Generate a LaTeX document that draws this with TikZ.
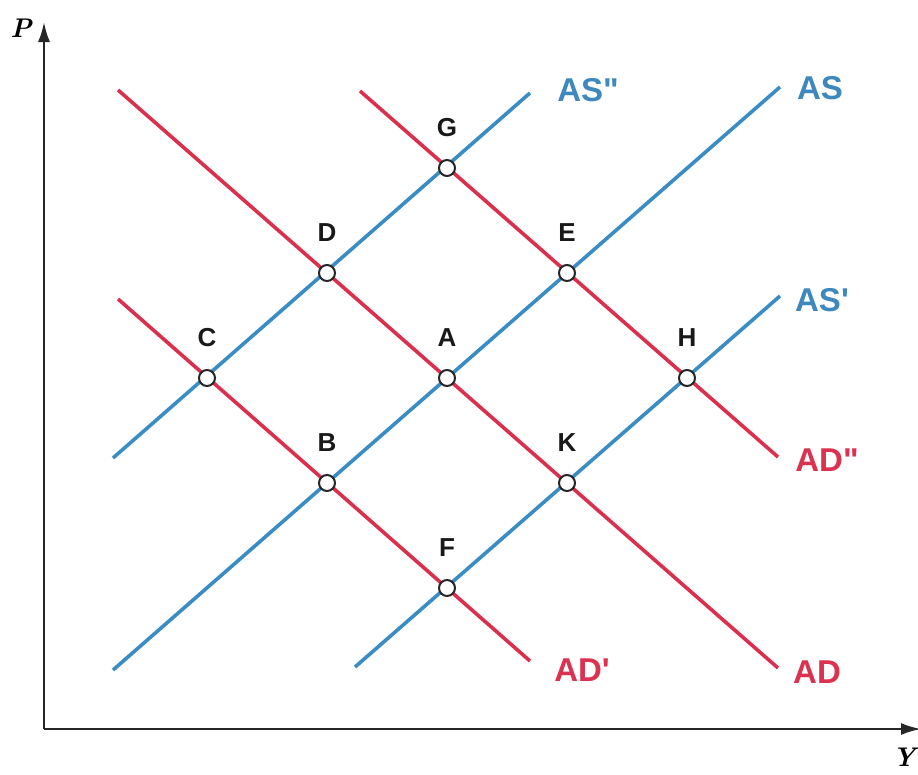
\documentclass[tikz,border=0pt]{standalone}
\usepackage{fontspec}
\newfontfamily\labfont{Liberation Sans}
\usetikzlibrary{arrows.meta}
\definecolor{asblue}{RGB}{58,140,196}
\definecolor{adred}{RGB}{218,48,78}
\definecolor{astext}{RGB}{62,136,190}
\definecolor{adtext}{RGB}{218,50,80}
\begin{document}
\begin{tikzpicture}[x=1pt,y=-1pt,
  axis/.style={line width=2.2pt,draw=black!85,-{Latex[length=20pt,width=12pt]}},
  asline/.style={line width=3.6pt,draw=asblue},
  adline/.style={line width=3.6pt,draw=adred},
  eq/.style={circle,draw=black!85,fill=white,line width=2pt,minimum size=16pt,inner sep=0pt},
  ptlab/.style={font=\labfont\bfseries\fontsize{26}{26}\selectfont,text=black!90},
  aslab/.style={font=\labfont\bfseries\fontsize{33}{33}\selectfont,text=astext},
  adlab/.style={font=\labfont\bfseries\fontsize{33}{33}\selectfont,text=adtext},
  axlab/.style={font=\bfseries\itshape\fontsize{27}{27}\selectfont}]
\useasboundingbox (0,0) rectangle (918,774);
% axes
\coordinate (O) at (44,729);
\coordinate (Ptop) at (44,22);
\coordinate (Yend) at (921,729);
\draw[axis] (O) -- (Ptop);
\draw[axis] (O) -- (Yend);
\node[axlab] (Plab) at (21,28) {P};
\node[axlab] (Ylab) at (904,757) {Y};
% line end coordinates
\coordinate (as2s) at (113,458);
\coordinate (as2e) at (530,93);
\coordinate (ass) at (113,670);
\coordinate (ase) at (780,87);
\coordinate (as1s) at (355,667);
\coordinate (as1e) at (780,296);
\coordinate (ads) at (118,90);
\coordinate (ade) at (778,668);
\coordinate (ad1s) at (118,299);
\coordinate (ad1e) at (530,661);
\coordinate (ad2s) at (360,91);
\coordinate (ad2e) at (778,457);
\draw[asline] (as2s) -- (as2e);
\draw[asline] (ass) -- (ase);
\draw[asline] (as1s) -- (as1e);
\draw[adline] (ads) -- (ade);
\draw[adline] (ad1s) -- (ad1e);
\draw[adline] (ad2s) -- (ad2e);
% curve labels
\node[aslab] (lAS2) at (588,90) {AS"};
\node[aslab] (lAS) at (820,88) {AS};
\node[aslab] (lAS1) at (822,300) {AS'};
\node[adlab] (lAD2) at (827,460) {AD"};
\node[adlab] (lAD1) at (582,670) {AD'};
\node[adlab] (lAD) at (817,672) {AD};
% equilibrium points
\node[eq] (G) at (447,168) {};
\node[eq] (D) at (327,273) {};
\node[eq] (E) at (567,273) {};
\node[eq] (C) at (207,378) {};
\node[eq] (A) at (447,378) {};
\node[eq] (H) at (687,378) {};
\node[eq] (B) at (327,483) {};
\node[eq] (K) at (567,483) {};
\node[eq] (F) at (447,588) {};
\foreach \p in {G,D,E,C,A,H,B,K,F}
  \node[ptlab] (l\p) at ([yshift=40pt]\p) {\p};
\end{tikzpicture}
\end{document}
